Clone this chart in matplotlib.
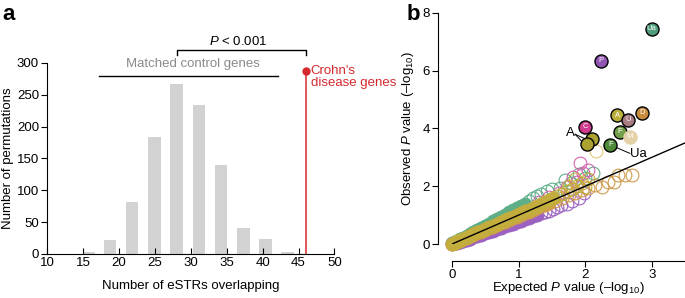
import matplotlib
matplotlib.use("Agg")
import matplotlib.pyplot as plt
import numpy as np

plt.rcParams['font.family'] = ['Liberation Sans', 'DejaVu Sans']
plt.rcParams['mathtext.fontset'] = 'custom'
plt.rcParams['mathtext.rm'] = 'Liberation Sans'
plt.rcParams['mathtext.it'] = 'Liberation Sans:italic'
plt.rcParams['font.size'] = 9.5

# ---- panel a: permutation histogram ----
bin_centers = [15.8, 18.7, 21.8, 24.9, 28.0, 31.1, 34.2, 37.3, 40.4, 43.5]
perm_counts = [3, 22, 81, 183, 267, 234, 139, 41, 24, 3]
crohn_value = 46
crohn_count = 287

# ---- panel b: QQ plot, open circles per trait ----
green_x = [0.00, 0.04, 0.08, 0.12, 0.17, 0.22, 0.27, 0.32, 0.38, 0.44, 0.50, 0.56, 0.62, 0.68,
           0.74, 0.80, 0.86, 0.92, 0.98, 1.04, 1.10, 1.16, 1.22, 1.28, 1.34, 1.42, 1.50, 1.62,
           1.70, 1.78, 1.90, 2.00, 2.12]
green_y = [0.02, 0.06, 0.11, 0.16, 0.22, 0.29, 0.36, 0.42, 0.50, 0.57, 0.64, 0.71, 0.79, 0.86,
           0.94, 1.02, 1.10, 1.17, 1.25, 1.32, 1.40, 1.50, 1.60, 1.66, 1.74, 1.84, 1.90, 1.95,
           2.20, 2.10, 2.42, 2.30, 2.45]

purple_x = [0.00, 0.04, 0.08, 0.12, 0.17, 0.22, 0.27, 0.32, 0.38, 0.44, 0.50, 0.56, 0.62, 0.68,
            0.74, 0.80, 0.86, 0.92, 0.98, 1.04, 1.10, 1.16, 1.22, 1.28, 1.34, 1.40, 1.46, 1.52,
            1.58, 1.64, 1.72, 1.80, 1.90, 1.98]
purple_y = [0.00, 0.02, 0.05, 0.08, 0.11, 0.15, 0.19, 0.23, 0.27, 0.32, 0.37, 0.42, 0.46, 0.51,
            0.56, 0.61, 0.66, 0.71, 0.76, 0.81, 0.86, 0.91, 0.96, 1.01, 1.06, 1.11, 1.16, 1.22,
            1.28, 1.34, 1.40, 1.48, 1.60, 1.75]

magenta_x = [1.30, 1.45, 1.60, 1.72, 1.82, 1.88, 1.92, 1.97, 2.05]
magenta_y = [1.45, 1.62, 1.78, 1.98, 2.33, 2.15, 2.80, 2.45, 2.55]

orange_x = [0.00, 0.04, 0.08, 0.12, 0.17, 0.22, 0.27, 0.32, 0.38, 0.44, 0.50, 0.56, 0.62, 0.68,
            0.74, 0.80, 0.86, 0.92, 0.98, 1.04, 1.10, 1.16, 1.22, 1.28, 1.34, 1.40, 1.46, 1.55,
            1.65, 1.75, 1.85, 1.95, 2.04, 2.15, 2.25, 2.34, 2.44, 2.49, 2.60, 2.70]
orange_y = [0.00, 0.04, 0.08, 0.12, 0.16, 0.21, 0.26, 0.31, 0.37, 0.42, 0.48, 0.54, 0.60, 0.66,
            0.72, 0.77, 0.83, 0.89, 0.95, 1.01, 1.07, 1.12, 1.18, 1.24, 1.30, 1.36, 1.42, 1.50,
            1.60, 1.70, 1.78, 1.87, 1.95, 2.05, 1.98, 2.16, 2.16, 2.39, 2.39, 2.40]

olive_x = [0.00, 0.04, 0.08, 0.12, 0.17, 0.22, 0.27, 0.32, 0.38, 0.44, 0.50, 0.56, 0.62, 0.68,
           0.74, 0.80, 0.86, 0.92, 0.98, 1.04, 1.10, 1.16, 1.22, 1.28, 1.34, 1.40, 1.46, 1.52,
           1.58, 1.65, 1.72, 1.75, 1.80, 1.85, 1.88, 1.96, 2.00, 2.05]
olive_y = [0.01, 0.05, 0.09, 0.13, 0.18, 0.23, 0.28, 0.34, 0.40, 0.46, 0.52, 0.58, 0.64, 0.70,
           0.77, 0.83, 0.89, 0.95, 1.01, 1.07, 1.13, 1.19, 1.26, 1.32, 1.38, 1.45, 1.51, 1.58,
           1.65, 1.74, 1.82, 2.02, 1.92, 2.25, 2.02, 2.12, 1.98, 2.25]

# top hits: (expected, observed, letter, colour)
hit_x = [3.00, 2.24, 2.48, 2.64, 2.86, 2.00, 2.52, 2.67, 2.10, 2.03, 2.38]
hit_y = [7.46, 6.34, 4.46, 4.31, 4.54, 4.06, 3.88, 3.71, 3.62, 3.46, 3.43]
hit_labels = ['Ua', 'P', 'A', 'U', 'D', 'C', 'F', 'M', '', '', 'F']
hit_colors = ['#4f9c7c', '#9156b4', '#b9b03c', '#a77b82', '#c78b3e', '#cf3a8c',
              '#72a04a', '#e3d2a8', '#aba232', '#aba232', '#4f8a38']

fig = plt.figure(figsize=(6.85, 2.98), dpi=100)

# ================= panel a =================
ax1 = fig.add_axes([0.0692, 0.1477, 0.419, 0.641])
ax1.bar(bin_centers, perm_counts, width=1.75, color='#d2d2d2')
ax1.set_xlim(10, 50)
ax1.set_ylim(0, 300)
ax1.set_xticks(range(10, 51, 5))
ax1.set_yticks(range(0, 301, 50))
ax1.spines['top'].set_visible(False)
ax1.spines['right'].set_visible(False)
ax1.tick_params(axis='x', direction='in', length=4, pad=2)
ax1.tick_params(axis='y', direction='out', length=4, pad=2)
ax1.set_xlabel('Number of eSTRs overlapping')
ax1.set_ylabel('Number of permutations')
ax1.xaxis.set_label_coords(0.5, -0.135)
ax1.yaxis.set_label_coords(-0.118, 0.5)

red = '#d42a2e'
ax1.plot([crohn_value, crohn_value], [0, crohn_count], color=red, lw=1.1, clip_on=False)
ax1.plot([crohn_value], [crohn_count], 'o', color=red, ms=5, clip_on=False)
ax1.text(46.7, 278, "Crohn's\ndisease genes", color=red, ha='left', va='center',
         linespacing=1.0)

ax1.plot([17.2, 42.2], [280, 280], color='k', lw=1, clip_on=False)
ax1.text(30.3, 298, 'Matched control genes', color='#8a8a8a', ha='center', va='center')
ax1.plot([28, 28, 46, 46], [312, 320, 320, 312], color='k', lw=1, clip_on=False)
ax1.text(36.6, 334, '$P$ < 0.001', ha='center', va='center')

# ================= panel b =================
ax2 = fig.add_axes([0.6599, 0.1812, 0.3401, 0.7752])
ax2.plot([0, 3.5], [0, 3.5], color='k', lw=1, zorder=5)

def qq(ax, xs, ys, color, solid_below, z):
    xs = np.asarray(xs)
    ys = np.asarray(ys)
    core = xs < solid_below
    ax.plot(xs[core], ys[core], 'o', ms=9.2, mfc=color, mec=color, mew=0.8,
            zorder=z, clip_on=False)
    ax.plot(xs[~core], ys[~core], 'o', ms=9.2, mfc='none', mec=color, mew=0.8,
            zorder=z)

qq(ax2, green_x, green_y, '#5fae88', 1.12, 2)
qq(ax2, purple_x, purple_y, '#9c62c2', 1.30, 2)
qq(ax2, magenta_x, magenta_y, '#d263ac', 0.0, 3)
qq(ax2, orange_x, orange_y, '#cf9a4e', 1.50, 3)
qq(ax2, olive_x, olive_y, '#c3ad3c', 1.55, 4)

# open beige circle among the top hits
ax2.plot([2.16], [3.23], 'o', ms=9.2, mfc='white', mec='#e6c87a', mew=0.8, zorder=6)

for x, y, lab, c in zip(hit_x, hit_y, hit_labels, hit_colors):
    ec = c if lab == 'M' else 'k'
    ax2.plot([x], [y], 'o', ms=9.4, mfc=c, mec=ec, mew=1.0, zorder=7, clip_on=False)
    if lab:
        ax2.text(x, y, lab, color='white', fontsize=5.5, ha='center', va='center', zorder=8)

ax2.text(1.785, 3.84, 'A', ha='center', va='center')
ax2.plot([1.85, 2.04], [3.80, 3.60], color='k', lw=0.7, zorder=6)
ax2.plot([1.85, 1.98], [3.80, 3.48], color='k', lw=0.7, zorder=6)
ax2.plot([2.45, 2.67], [3.36, 3.14], color='k', lw=0.7, zorder=6)
ax2.text(2.68, 3.1, 'Ua', ha='left', va='center')

ax2.set_xlim(0, 3.5)
ax2.set_ylim(0, 8)
ax2.set_xticks([0, 1, 2, 3])
ax2.set_yticks([0, 2, 4, 6, 8])
ax2.spines['top'].set_visible(False)
ax2.spines['right'].set_visible(False)
ax2.spines['left'].set_position(('outward', 10))
ax2.spines['bottom'].set_position(('outward', 12))
ax2.tick_params(direction='out', length=4, pad=2)
ax2.set_xlabel('Expected $P$ value (–log$_{10}$)')
ax2.set_ylabel('Observed $P$ value (–log$_{10}$)')
ax2.xaxis.set_label_coords(0.5, -0.155)
ax2.yaxis.set_label_coords(-0.155, 0.5)

fig.text(0.003, 0.95, 'a', fontsize=16, fontweight='bold', va='center')
fig.text(0.594, 0.95, 'b', fontsize=16, fontweight='bold', va='center')

fig.savefig('out.png', dpi=100)
